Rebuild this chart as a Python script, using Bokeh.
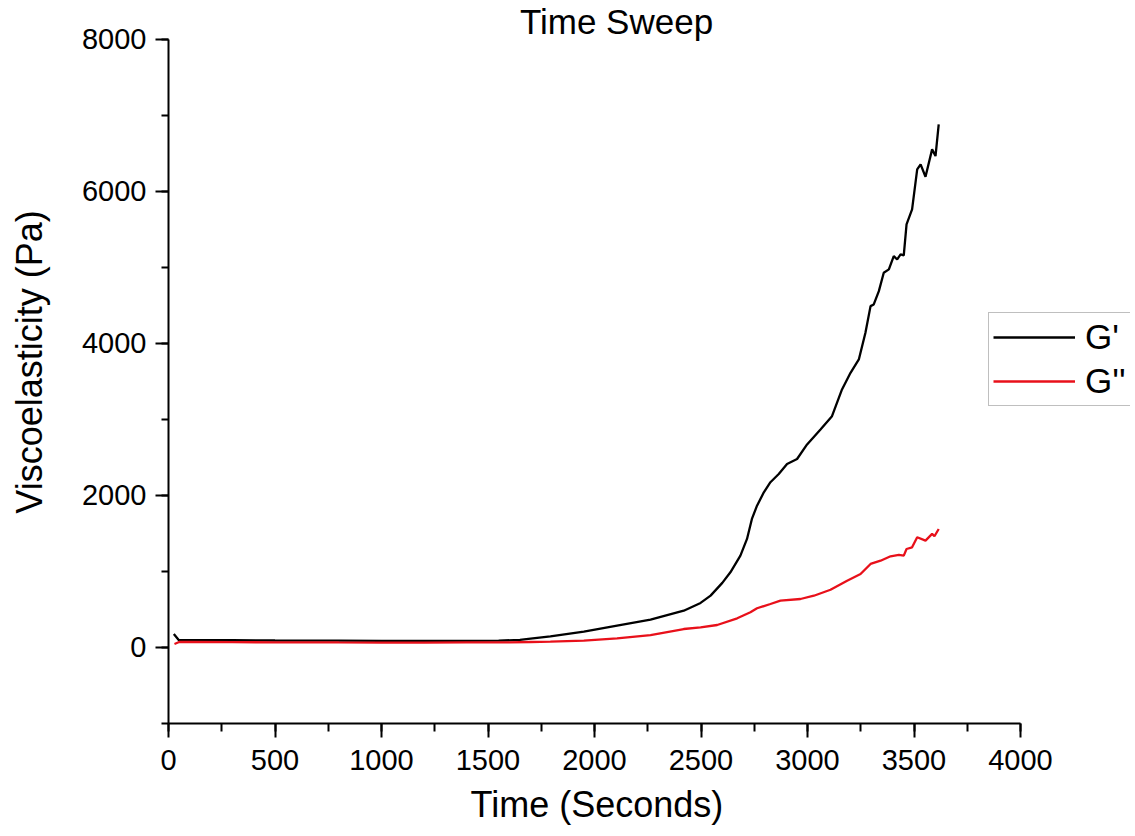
from bokeh.plotting import figure
from bokeh.models import Range1d, SingleIntervalTicker, Legend, LegendItem, Label, Title
from bokeh.embed import file_html
from bokeh.resources import INLINE

# ---- data ----
time_g1 = [25, 48, 100, 300, 500, 800, 1000, 1200, 1400, 1550,
           1650, 1700, 1793, 1950, 2106, 2263, 2419, 2498, 2545, 2600,
           2638, 2685, 2716, 2739, 2763, 2795, 2826, 2865, 2904, 2951,
           2998, 3061, 3115, 3162, 3202, 3241, 3272, 3296, 3311, 3335,
           3358, 3382, 3405, 3421, 3437, 3452, 3465, 3491, 3515, 3531,
           3554, 3585, 3601, 3616]
g_prime = [178, 98, 97, 95, 92, 90, 88, 87, 87, 90,
           100, 118, 147, 208, 287, 366, 484, 586, 682, 850,
           989, 1208, 1428, 1691, 1866, 2042, 2174, 2283, 2415, 2480,
           2671, 2868, 3043, 3395, 3614, 3789, 4140, 4491, 4513, 4688,
           4930, 4974, 5149, 5105, 5171, 5158, 5566, 5763, 6290, 6355,
           6193, 6553, 6465, 6882]

time_g2 = [28, 50, 100, 300, 500, 800, 1000, 1200, 1400, 1600,
           1700, 1793, 1950, 2106, 2263, 2419, 2498, 2576, 2670, 2732,
           2763, 2826, 2873, 2967, 3030, 3108, 3186, 3249, 3296, 3343,
           3390, 3429, 3452, 3465, 3491, 3515, 3554, 3585, 3596, 3616]
g_double = [46, 72, 72, 70, 68, 66, 65, 65, 66, 68,
            72, 76, 89, 121, 164, 243, 265, 296, 384, 463,
            516, 572, 616, 638, 681, 760, 879, 967, 1099, 1142,
            1200, 1217, 1208, 1296, 1318, 1450, 1406, 1494, 1463, 1559]

series_names = ["G'", "G''"]
series_colors = ["#000000", "#e8101a"]
title_text = "Time Sweep"
x_title = "Time (Seconds)"
y_title = "Viscoelasticity (Pa)"
x_axis_span = (0, 4000)
y_axis_span = (-1000, 8000)

FONT = "Liberation Sans"

# The frame is larger than the drawn axes so that the title and the legend
# (which lie outside the axes in the reference) are not clipped.
W, H = 1130, 834
LEFT, TOP, BOTTOM = 168, 0, 109
frame_w = W - LEFT
frame_h = H - TOP - BOTTOM
px_per_x = 852 / (x_axis_span[1] - x_axis_span[0])
px_per_y = 686 / (y_axis_span[1] - y_axis_span[0])
x_end = x_axis_span[0] + frame_w / px_per_x
y_start = y_axis_span[0]
y_end = y_start + frame_h / px_per_y

p = figure(width=W, height=H,
           x_range=Range1d(x_axis_span[0], x_end), y_range=Range1d(y_start, y_end),
           output_backend="svg", toolbar_location=None,
           min_border_left=LEFT, min_border_right=0,
           min_border_top=TOP, min_border_bottom=BOTTOM)
p.outline_line_color = None
p.xgrid.visible = False
p.ygrid.visible = False
p.background_fill_color = "white"
p.border_fill_color = "white"

r1 = p.line(time_g1, g_prime, line_color=series_colors[0], line_width=2.3)
r2 = p.line(time_g2, g_double, line_color=series_colors[1], line_width=2.3)

# axes
p.xaxis.ticker = SingleIntervalTicker(interval=500, num_minor_ticks=2)
p.yaxis.ticker = SingleIntervalTicker(interval=2000, num_minor_ticks=2)
p.xaxis.bounds = x_axis_span
p.yaxis.bounds = y_axis_span
for ax in (p.xaxis, p.yaxis):
    ax.axis_line_color = "black"
    ax.axis_line_width = 2
    ax.major_tick_line_color = "black"
    ax.major_tick_line_width = 2
    ax.minor_tick_line_color = "black"
    ax.minor_tick_line_width = 2
    ax.major_tick_in = 0
    ax.minor_tick_in = 0
    ax.major_label_text_font = FONT
    ax.major_label_text_font_size = "29px"
    ax.major_label_text_color = "black"

p.xaxis.major_tick_out = 14
p.xaxis.minor_tick_out = 8
p.yaxis.major_tick_out = 13
p.yaxis.minor_tick_out = 7
p.xaxis.major_label_standoff = 12
p.yaxis.major_label_standoff = 9

# y axis title
p.yaxis.axis_label = y_title
p.yaxis.axis_label_text_font = FONT
p.yaxis.axis_label_text_font_size = "36px"
p.yaxis.axis_label_text_font_style = "normal"
p.yaxis.axis_label_text_color = "black"
p.yaxis.axis_label_standoff = 29

# x axis title, positioned along the drawn axis (not the larger frame)
x_t = Title(text=x_title, align="left", offset=302, standoff=19,
            text_font=FONT, text_font_size="36px", text_font_style="normal",
            text_color="black")
p.add_layout(x_t, "below")

# chart title as a label above the axes
p.add_layout(Label(x=448, y=frame_h - 23, x_units="screen", y_units="screen",
                   text=title_text, text_font=FONT, text_font_size="35px",
                   text_align="center", text_baseline="alphabetic",
                   text_color="black"))

legend = Legend(items=[LegendItem(label=series_names[0], renderers=[r1]),
                       LegendItem(label=series_names[1], renderers=[r2])],
                location=(820, frame_h - 408), orientation="vertical",
                padding=4, margin=0, spacing=4,
                glyph_width=82, glyph_height=40, label_height=40,
                label_standoff=10,
                label_text_font=FONT, label_text_font_size="35px",
                label_text_color="black",
                border_line_color="#7f7f7f", border_line_width=1.5,
                background_fill_color="white", background_fill_alpha=1.0)
p.add_layout(legend, "center")

open("out.html", "w").write(file_html(p, INLINE))
